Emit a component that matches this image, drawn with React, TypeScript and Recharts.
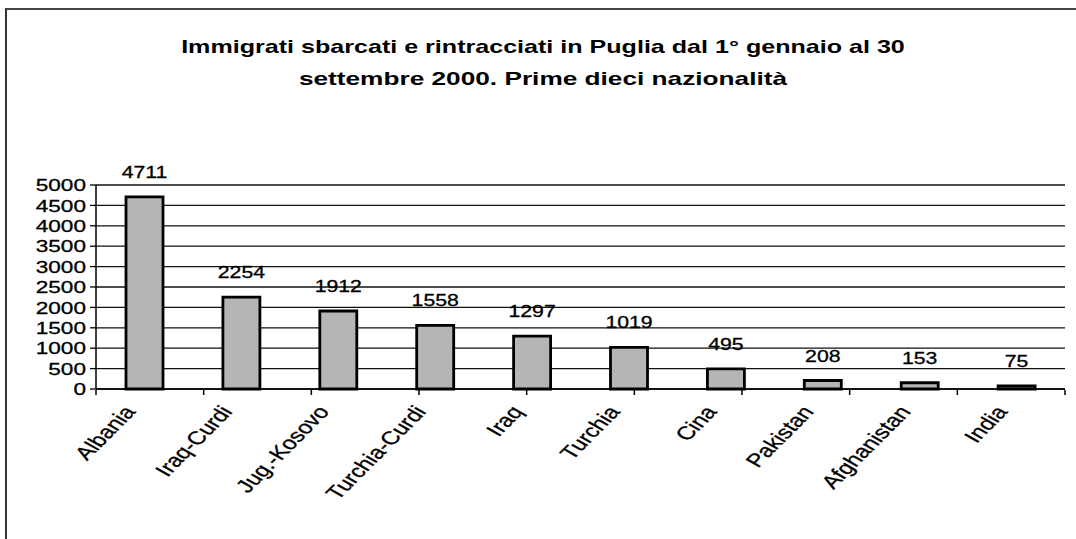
import React from 'react';
import { BarChart, Bar, XAxis, YAxis, CartesianGrid, LabelList } from 'recharts';

const categories = ['Albania', 'Iraq-Curdi', 'Jug.-Kosovo', 'Turchia-Curdi', 'Iraq', 'Turchia', 'Cina', 'Pakistan', 'Afghanistan', 'India'];
const values = [4711, 2254, 1912, 1558, 1297, 1019, 495, 208, 153, 75];
const yTicks = [0, 500, 1000, 1500, 2000, 2500, 3000, 3500, 4000, 4500, 5000];
const boundaryTicks = [0, 1, 2, 3, 4, 5, 6, 7, 8, 9, 10];
const titleLines = ['Immigrati sbarcati e rintracciati in Puglia dal 1° gennaio al 30', 'settembre 2000. Prime dieci nazionalità'];
const titleScales = [1.32, 1.38];

const data = categories.map((name, i) => ({ name, value: values[i] }));

const FONT = '"Liberation Sans", Arial, Helvetica, sans-serif';
const SX = 1.33;

function YTick(props: any) {
  const { x, y, payload } = props;
  return (
    <text transform={`translate(${x},${y}) scale(${SX},1)`} textAnchor="end" dy="0.36em" fontSize={17} fontFamily={FONT} fill="#000" stroke="#000" strokeWidth={0.3}>
      {payload.value}
    </text>
  );
}

function XTick(props: any) {
  const { x, y, payload } = props;
  return (
    <text transform={`translate(${x - 8},${y + 23}) scale(${SX},1) rotate(-53)`} textAnchor="end" fontSize={18.5} fontFamily={FONT} fill="#000" stroke="#000" strokeWidth={0.3}>
      {payload.value}
    </text>
  );
}

function EmptyTick() {
  return <g />;
}

function ValueLabel(props: any) {
  const { x, y, width, value } = props;
  return (
    <text transform={`translate(${x + width / 2},${y - 19}) scale(1.25,1)`} textAnchor="middle" fontSize={17} fontFamily={FONT} fill="#000" stroke="#000" strokeWidth={0.3}>
      {value}
    </text>
  );
}

export default function App() {
  return (
    <div style={{ position: 'absolute', left: 0, top: 0, width: 1076, height: 539, overflow: 'hidden', background: '#fff' }}>
      <div style={{ position: 'absolute', left: 5, top: 8, width: 1071, height: 531, borderLeft: '2px solid #333', borderTop: '2px solid #444', boxSizing: 'border-box' }} />
      <div style={{ position: 'absolute', left: 5, top: 31, width: 1076, textAlign: 'center', fontFamily: FONT, fontWeight: 'bold', fontSize: 19, lineHeight: '32px', color: '#000' }}>
        {titleLines.map((t, i) => (
          <div key={t} style={{ whiteSpace: 'nowrap', transform: `scaleX(${titleScales[i]})`, transformOrigin: 'center' }}>{t}</div>
        ))}
      </div>
      <div style={{ position: 'absolute', left: 0, top: 0 }}>
        <BarChart width={1076} height={539} data={data} margin={{ top: 185, right: 11, left: 36, bottom: 120 }}>
          <CartesianGrid yAxisId="l" xAxisId="c" vertical={false} horizontal stroke="#111" strokeWidth={1.3} />
          <XAxis xAxisId="t" type="number" domain={[0, 10]} ticks={boundaryTicks} interval={0} height={29} tick={<EmptyTick />} tickSize={5} tickMargin={0} axisLine={false} tickLine={{ stroke: '#000', strokeWidth: 1.5 }} />
          <XAxis xAxisId="c" dataKey="name" height={1} interval={0} tickLine={false} tickSize={0} tickMargin={0} axisLine={{ stroke: '#000', strokeWidth: 1.5 }} tick={<XTick />} />
          <YAxis yAxisId="l" width={60} domain={[0, 5000]} ticks={yTicks} interval={0} tickSize={6} tickMargin={4} tickLine={{ stroke: '#000', strokeWidth: 1.3 }} axisLine={{ stroke: '#000', strokeWidth: 1.5 }} tick={<YTick />} />
          <YAxis yAxisId="r" orientation="right" width={0} domain={[0, 5000]} tick={false} tickLine={false} axisLine={{ stroke: '#000', strokeWidth: 1.5 }} />
          <Bar xAxisId="c" yAxisId="l" dataKey="value" fill="#b5b5b5" stroke="#000" strokeWidth={2.8} barSize={37} isAnimationActive={false}>
            <LabelList dataKey="value" content={<ValueLabel />} />
          </Bar>
        </BarChart>
      </div>
    </div>
  );
}
